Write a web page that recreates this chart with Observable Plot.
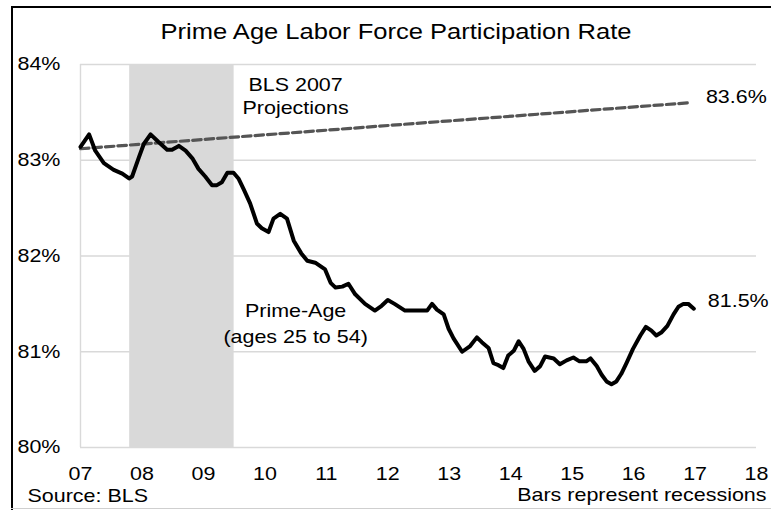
<!DOCTYPE html>
<html><head><meta charset="utf-8">
<script src="https://cdn.jsdelivr.net/npm/d3@7"></script>
<script src="https://cdn.jsdelivr.net/npm/@observablehq/plot@0.6"></script>
<style>body{margin:0;background:#fff} #chart{width:771px;height:510px;position:relative}</style>
</head><body><div id="chart"></div>
<script>
// Prime-age (25-54) labor force participation rate (decimal years)
const years = [2007.00,2007.14,2007.24,2007.38,2007.54,2007.68,2007.79,2007.84,2007.95,2008.03,2008.14,2008.27,2008.41,2008.49,2008.60,2008.71,2008.82,2008.92,2009.03,2009.14,2009.22,2009.30,2009.39,2009.49,2009.57,2009.66,2009.76,2009.87,2009.95,2010.06,2010.14,2010.25,2010.36,2010.47,2010.59,2010.69,2010.82,2010.98,2011.07,2011.15,2011.26,2011.36,2011.47,2011.63,2011.79,2011.90,2012.00,2012.11,2012.28,2012.47,2012.64,2012.72,2012.80,2012.91,2012.99,2013.07,2013.21,2013.34,2013.45,2013.53,2013.64,2013.72,2013.80,2013.88,2013.96,2014.05,2014.13,2014.21,2014.29,2014.39,2014.48,2014.56,2014.70,2014.80,2014.91,2015.02,2015.12,2015.23,2015.30,2015.40,2015.48,2015.56,2015.64,2015.72,2015.80,2015.89,2015.99,2016.11,2016.20,2016.29,2016.37,2016.45,2016.55,2016.65,2016.73,2016.81,2016.89,2016.98];
const rates = [83.14,83.27,83.10,82.97,82.90,82.86,82.81,82.83,83.03,83.17,83.27,83.19,83.11,83.11,83.15,83.10,83.02,82.91,82.83,82.74,82.74,82.77,82.87,82.87,82.81,82.69,82.55,82.34,82.29,82.25,82.39,82.44,82.39,82.16,82.03,81.95,81.93,81.86,81.72,81.67,81.68,81.71,81.60,81.50,81.43,81.48,81.54,81.50,81.43,81.43,81.43,81.50,81.44,81.39,81.24,81.14,81.00,81.06,81.15,81.10,81.04,80.88,80.86,80.83,80.96,81.01,81.11,81.03,80.90,80.80,80.85,80.95,80.93,80.87,80.91,80.94,80.90,80.90,80.93,80.85,80.76,80.69,80.66,80.69,80.77,80.89,81.03,81.17,81.26,81.22,81.17,81.20,81.27,81.39,81.47,81.50,81.50,81.45];
// BLS 2007 projection (straight line)
const projYears = [2007.0, 2016.9];
const projRates = [83.12, 83.6];
// Recession (shaded bar)
const recessionStart = [2007.8];
const recessionEnd = [2009.5];
// Ticks and labels
const yTicks = [80, 81, 82, 83, 84];
const xTicks = [2007, 2008, 2009, 2010, 2011, 2012, 2013, 2014, 2015, 2016, 2017, 2018];
const xTickLabels = ["07","08","09","10","11","12","13","14","15","16","17","18"];
const titleText = "Prime Age Labor Force Participation Rate";
const projLabel = ["BLS 2007", "Projections"];
const seriesLabel = ["Prime-Age", "(ages 25 to 54)"];
const endLabels = ["83.6%", "81.5%"];
const sourceText = "Source: BLS";
const noteText = "Bars represent recessions";

const FONT = "'Liberation Sans', Arial, Helvetica, sans-serif";
const line = years.map((x, i) => ({x, y: rates[i]}));
const proj = projYears.map((x, i) => ({x, y: projRates[i]}));
const recessions = recessionStart.map((s, i) => ({x1: s, x2: recessionEnd[i]}));

const svg = Plot.plot({
  width: 771, height: 510,
  marginLeft: 80, marginRight: 15, marginTop: 64, marginBottom: 63,
  style: {fontFamily: FONT, fontSize: "18.5px", color: "#000", background: "#fff", overflow: "visible"},
  x: {domain: [2007, 2018], axis: null, label: null},
  y: {domain: [80, 84], axis: null, label: null},
  marks: [
    Plot.ruleY(yTicks, {stroke: "#d9d9d9", strokeWidth: 1.4}),
    Plot.ruleX([xTicks[0]], {stroke: "#d9d9d9", strokeWidth: 1.4}),
    Plot.rect(recessions, {x1: "x1", x2: "x2", y1: yTicks[0], y2: yTicks[yTicks.length - 1], fill: "#d9d9d9"}),
    Plot.axisY(yTicks, {label: null, tickSize: 0, tickPadding: 63, textAnchor: "start", tickFormat: d => d + "%", fontSize: 18.5, fill: "#000"}),
    Plot.axisX(xTicks, {label: null, tickSize: 0, tickPadding: 19, tickFormat: (d, i) => xTickLabels[i], fontSize: 18.5, fill: "#000"}),
    Plot.line(proj, {x: "x", y: "y", stroke: "#555", strokeWidth: 3.2, strokeDasharray: "8.5,4"}),
    Plot.line(line, {x: "x", y: "y", stroke: "#000", strokeWidth: 4, strokeLinejoin: "round", strokeLinecap: "round", curve: "linear"}),
    Plot.text(projLabel, {x: () => 2010.5, y: (d, i) => [83.78, 83.55][i], text: d => d, fontSize: 18.5, fill: "#000"}),
    Plot.text(seriesLabel, {x: () => 2010.5, y: (d, i) => [81.42, 81.15][i], text: d => d, fontSize: 18.5, fill: "#000"}),
    Plot.text([proj[proj.length - 1]], {x: "x", y: "y", text: () => endLabels[0], textAnchor: "start", dx: 17, dy: -6, fontSize: 18.5, fill: "#000"}),
    Plot.text([line[line.length - 1]], {x: "x", y: "y", text: () => endLabels[1], textAnchor: "start", dx: 14, dy: -8, fontSize: 18.5, fill: "#000"}),
    Plot.text([titleText], {frameAnchor: "top", text: d => d, dx: -22.5, dy: -33, lineAnchor: "middle", fontSize: 22, fill: "#000"}),
    Plot.text([sourceText], {frameAnchor: "bottom-left", text: d => d, textAnchor: "start", dx: -53, dy: 49, lineAnchor: "middle", fontSize: 18.5, fill: "#000"}),
    Plot.text([noteText], {frameAnchor: "bottom-right", text: d => d, textAnchor: "end", dx: 10, dy: 48, lineAnchor: "middle", fontSize: 18.5, fill: "#000"})
  ]
});

document.getElementById("chart").append(svg);

// chart frame
const s = d3.select(svg);
s.append("line").attr("x1", 11).attr("x2", 771).attr("y1", 7).attr("y2", 7).attr("stroke", "#000").attr("stroke-width", 2);
s.append("line").attr("x1", 12).attr("x2", 12).attr("y1", 6).attr("y2", 510).attr("stroke", "#000").attr("stroke-width", 2);
s.append("line").attr("x1", 11).attr("x2", 771).attr("y1", 508.5).attr("y2", 508.5).attr("stroke", "#cfcfcf").attr("stroke-width", 1.2);

// widen glyphs to match the reference's horizontally stretched lettering
const K = 1.16;
svg.querySelectorAll("text").forEach(t => {
  const spans = t.querySelectorAll("tspan");
  const els = spans.length ? Array.from(spans) : [t];
  els.forEach(el => {
    const w = el.getComputedTextLength();
    if (w > 0) { el.setAttribute("textLength", (w * K).toFixed(2)); el.setAttribute("lengthAdjust", "spacingAndGlyphs"); }
  });
});
</script></body></html>
